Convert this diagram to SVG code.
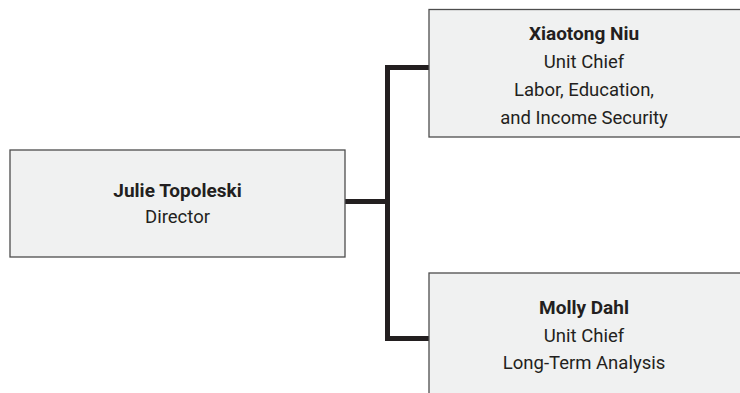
<svg xmlns="http://www.w3.org/2000/svg" width="740" height="393" viewBox="0 0 740 393">
  <style>
    .box { fill: #f0f1f1; stroke: #4d4d4d; stroke-width: 1.3; }
    .name { font-family: Roboto, "Liberation Sans", sans-serif; font-size: 19px; font-weight: bold; fill: #231f20; text-anchor: middle; }
    .role { font-family: Roboto, "Liberation Sans", sans-serif; font-size: 18.5px; fill: #231f20; text-anchor: middle; }
    .link { fill: none; stroke: #231f20; stroke-width: 5; stroke-linejoin: miter; }
  </style>
  <rect width="740" height="393" fill="#ffffff"/>
  <g id="connectors">
    <path class="link" d="M345 201.5 H387.5"/>
    <path class="link" d="M429 67.5 H387.5 V338.5 H429"/>
  </g>
  <g id="director">
    <rect class="box" x="10" y="150" width="335" height="107"/>
    <text class="name" x="177.5" y="197">Julie Topoleski</text>
    <text class="role" x="177.5" y="223">Director</text>
  </g>
  <g id="unit-labor">
    <rect class="box" x="429" y="9.5" width="320" height="127.5"/>
    <text class="name" x="584" y="40">Xiaotong Niu</text>
    <text class="role" x="584" y="68">Unit Chief</text>
    <text class="role" x="584" y="96">Labor, Education,</text>
    <text class="role" x="584" y="124">and Income Security</text>
  </g>
  <g id="unit-longterm">
    <rect class="box" x="429" y="273" width="320" height="130"/>
    <text class="name" x="584" y="314">Molly Dahl</text>
    <text class="role" x="584" y="342">Unit Chief</text>
    <text class="role" x="584" y="369">Long-Term Analysis</text>
  </g>
</svg>
